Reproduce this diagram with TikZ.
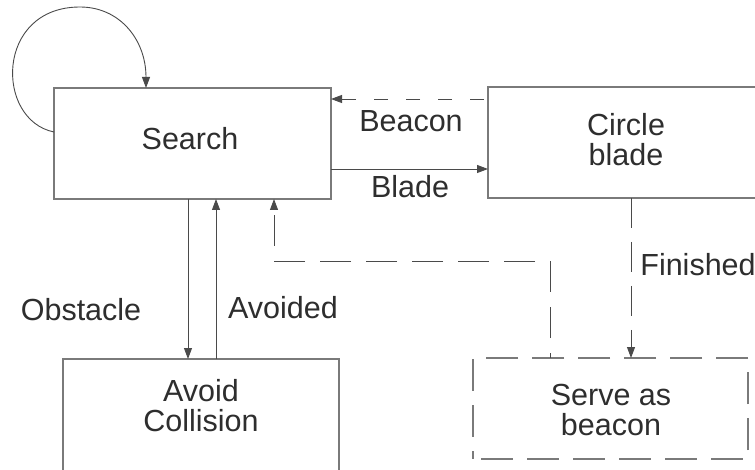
\documentclass[tikz,border=0pt]{standalone}
\usepackage{fontspec}
\setmainfont{Liberation Sans}
\usetikzlibrary{arrows.meta}
\definecolor{boxc}{HTML}{7A7A7A}
\definecolor{arrc}{HTML}{4A4A4A}
\definecolor{txtc}{HTML}{2E2E2E}
\begin{document}
\begin{tikzpicture}[x=1pt,y=-1pt,
  box/.style={draw=boxc,line width=1.1pt,rectangle,inner sep=0pt,outer sep=0pt},
  txt/.style={text=txtc,font=\fontsize{30.5}{30}\selectfont,align=center,inner sep=0pt},
  conn/.style={draw=arrc,line width=0.9pt,-{Triangle[length=11pt,width=8pt]}},
  longdash/.style={dash pattern=on 31pt off 15pt},
  shortdash/.style={dash pattern=on 14pt off 18pt}]
\clip (0,0) rectangle (755,470);
\fill[white] (0,0) rectangle (755,470);
% boxes
\node[box,minimum width=277pt,minimum height=111pt] (search) at (192.5,143.5) {};
\node[box,minimum width=277pt,minimum height=111pt] (circle) at (626.5,142.5) {};
\node[box,minimum width=276pt,minimum height=140pt] (avoid) at (201,429) {};
\node[box,dash pattern=on 32pt off 14pt,dash phase=-8pt,minimum width=275pt,minimum height=101pt] (serve) at (610.5,408.5) {};
% box texts
\node[txt] (searchtxt) at (190,139) {Search};
\node[txt] (circletxt) at (626,140) {Circle\\blade};
\node[txt] (avoidtxt) at (201,406) {Avoid\\Collision};
\node[txt] (servetxt) at (611,410) {Serve as\\beacon};
% helper coordinates
\coordinate (xo) at (188,0);
\coordinate (xa) at (216,0);
\coordinate (xr) at (274,0);
\coordinate (xf) at (631,0);
\coordinate (xs) at (550,0);
\coordinate (ybl) at (0,169);
\coordinate (ybe) at (0,99);
\coordinate (r1) at (550,261);
\coordinate (r2) at (274,261);
% connectors
\draw[conn] ([yshift=11.5pt]search.west) .. controls (-5,120) and (-5,7) .. (80,7)
   .. controls (120,7) and (146,40) .. (search.north -| 146,0);
\draw[conn] (search.east |- ybl) -- (circle.west |- ybl);
\draw[conn,shortdash,dash phase=-4pt] (circle.west |- ybe) -- (search.east |- ybe);
\draw[conn] (search.south -| xo) -- (avoid.north -| xo);
\draw[conn] (avoid.north -| xa) -- (search.south -| xa);
\draw[conn,dash pattern=on 30pt off 14pt] (circle.south -| xf) -- (serve.north -| xf);
\draw[conn,longdash,dash phase=-20pt] (serve.north -| xs) -- (r1) -- (r2) -- (search.south -| xr);
% labels
\node[txt] (lbeacon) at (411,121) {Beacon};
\node[txt] (lblade) at (410,187) {Blade};
\node[txt] (lobst) at (81,310) {Obstacle};
\node[txt] (lavoid) at (283,308) {Avoided};
\node[txt] (lfin) at (698,265) {Finished};
\end{tikzpicture}
\end{document}
